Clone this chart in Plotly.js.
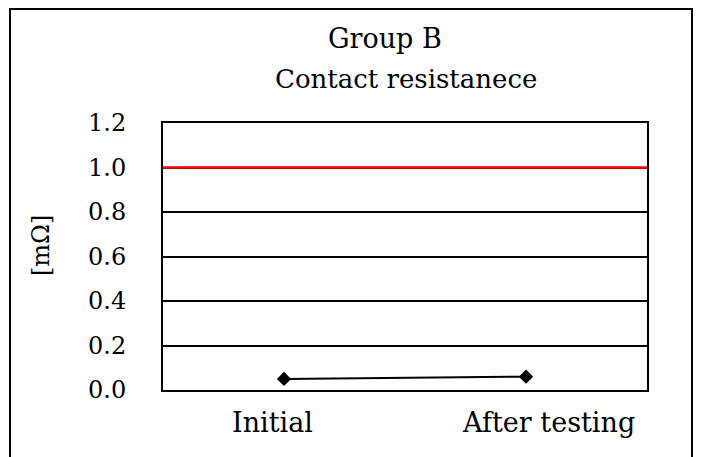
<!DOCTYPE html>
<html>
<head>
<meta charset="utf-8">
<script src="https://cdn.plot.ly/plotly-3.0.1.min.js"></script>
<style>
  html, body { margin: 0; padding: 0; background: #fff; }
  #chart { width: 702px; height: 457px; }
</style>
</head>
<body>
<div id="chart"></div>
<script>
const categories = ["Initial", "After testing"];
const resistance = [0.05, 0.06];
const limitValue = 1.0;
const yTickVals = [0, 0.2, 0.4, 0.6, 0.8, 1.0, 1.2];
const yTickText = ["0.0", "0.2", "0.4", "0.6", "0.8", "1.0", "1.2"];
const titleLines = ["Group B", "Contact resistanece"];
const yAxisTitle = "[mΩ]";

const fontFamily = "DejaVu Serif, serif";

const trace = {
  x: categories,
  y: resistance,
  type: "scatter",
  mode: "lines+markers",
  line: { color: "#000", width: 2 },
  marker: { symbol: "diamond", size: 11, color: "#000" },
  showlegend: false,
  hoverinfo: "x+y"
};

// category labels placed under each category (slightly offset like the reference)
const labelShifts = [-12, 22];
const xLabelAnnotations = categories.map((c, i) => ({
  text: c, xref: "x", yref: "paper", x: c, y: (390 - 422) / 267,
  xanchor: "center", yanchor: "middle", showarrow: false, xshift: labelShifts[i],
  font: { family: fontFamily, size: 27, color: "#000" }
}));

const layout = {
  width: 702,
  height: 457,
  margin: { l: 163, r: 55, t: 123, b: 67 },
  paper_bgcolor: "#fff",
  plot_bgcolor: "#fff",
  font: { family: fontFamily, color: "#000", size: 24 },
  xaxis: {
    type: "category",
    range: [-0.5, 1.5],
    showgrid: false,
    zeroline: false,
    showline: true, mirror: true, linecolor: "#000", linewidth: 2,
    ticks: "",
    showticklabels: false
  },
  yaxis: {
    range: [0, 1.2],
    tickvals: yTickVals,
    ticktext: yTickText,
    showgrid: true, gridcolor: "#000", gridwidth: 2,
    zeroline: false,
    showline: true, mirror: true, linecolor: "#000", linewidth: 2,
    ticks: "",
    tickfont: { family: fontFamily, size: 24, color: "#000" },
    ticklabelstandoff: 30
  },
  annotations: [
    {
      text: titleLines[0], xref: "paper", yref: "paper", x: (385 - 163) / 484, y: (390 - 38) / 267,
      xanchor: "center", yanchor: "middle", showarrow: false,
      font: { family: fontFamily, size: 27, color: "#000" }
    },
    {
      text: titleLines[1], xref: "paper", yref: "paper", x: (406 - 163) / 484, y: (390 - 79) / 267,
      xanchor: "center", yanchor: "middle", showarrow: false,
      font: { family: fontFamily, size: 26, color: "#000" }
    },
    {
      text: yAxisTitle, xref: "paper", yref: "paper", x: (41 - 163) / 484, y: (390 - 246) / 267,
      xanchor: "center", yanchor: "middle", textangle: -90, showarrow: false,
      font: { family: fontFamily, size: 24, color: "#000" }
    }
  ].concat(xLabelAnnotations),
  shapes: [
    {
      type: "line", xref: "paper", x0: 0, x1: 1, yref: "y", y0: limitValue, y1: limitValue,
      line: { color: "#ff0000", width: 2.5 }
    },
    {
      type: "rect", xref: "paper", yref: "paper",
      x0: (10 - 163) / 484, x1: (692 - 163) / 484,
      y0: (390 - 470) / 267, y1: (390 - 9) / 267,
      line: { color: "#000", width: 2 }, fillcolor: "rgba(0,0,0,0)", layer: "below"
    }
  ]
};

Plotly.newPlot("chart", [trace], layout, { displayModeBar: false, staticPlot: true });
</script>
</body>
</html>
